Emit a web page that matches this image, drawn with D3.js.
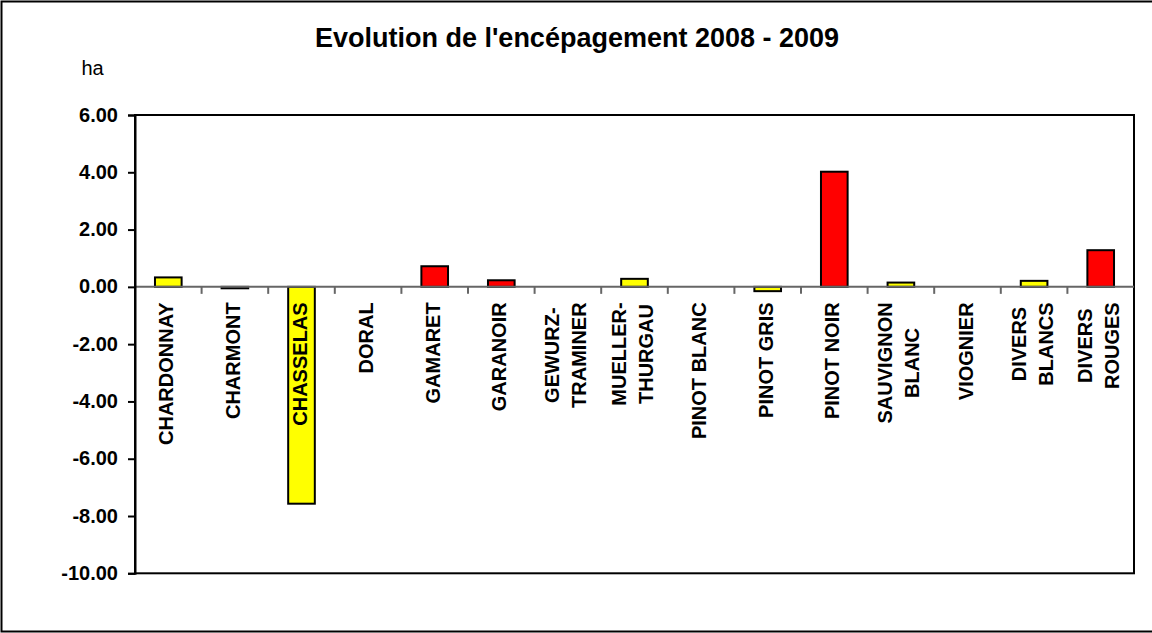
<!DOCTYPE html>
<html>
<head>
<meta charset="utf-8">
<script src="https://cdn.jsdelivr.net/npm/d3@7"></script>
<style>
  html, body { margin: 0; padding: 0; background: #fff; }
  svg { display: block; font-family: "Liberation Sans", Arial, sans-serif; }
</style>
</head>
<body>
<svg id="chart" width="1152" height="633"></svg>
<script>
const categories = ["CHARDONNAY", "CHARMONT", "CHASSELAS", "DORAL", "GAMARET", "GARANOIR",
  "GEWURZ-\nTRAMINER", "MUELLER-\nTHURGAU", "PINOT BLANC", "PINOT GRIS", "PINOT NOIR",
  "SAUVIGNON\nBLANC", "VIOGNIER", "DIVERS\nBLANCS", "DIVERS\nROUGES"];
const values = [0.33, -0.05, -7.57, 0, 0.72, 0.23, 0, 0.28, 0, -0.15, 4.02, 0.15, 0, 0.21, 1.28];
const grapeType = ["blanc", "blanc", "blanc", "rouge", "rouge", "rouge", "blanc", "blanc", "blanc",
  "blanc", "rouge", "blanc", "blanc", "blanc", "rouge"];
const yTicks = [6, 4, 2, 0, -2, -4, -6, -8, -10];
const titleText = "Evolution de l'encépagement 2008 - 2009";
const unitText = "ha";

const svg = d3.select("#chart");
const W = 1152, H = 633;
const m = { left: 135, right: 1134, top: 115, bottom: 573.3 };

// outer border
svg.append("rect").attr("x", 1.5).attr("y", 1.5).attr("width", W + 10).attr("height", 630)
  .attr("fill", "#fff").attr("stroke", "#000").attr("stroke-width", 2);

const x = d3.scaleBand().domain(categories).range([m.left, m.right]).paddingInner(0).paddingOuter(0);
const y = d3.scaleLinear().domain([-10, 6]).range([m.bottom, m.top]);
const colour = d3.scaleOrdinal().domain(["blanc", "rouge"]).range(["#FFFF00", "#FF0000"]);

// title
svg.append("text").attr("x", 577).attr("y", 47).attr("text-anchor", "middle")
  .attr("font-size", 27).attr("font-weight", "bold").text(titleText);
svg.append("text").attr("x", 81.5).attr("y", 75).attr("font-size", 20).text(unitText);

// plot frame
svg.append("rect").attr("x", m.left).attr("y", m.top)
  .attr("width", m.right - m.left).attr("height", m.bottom - m.top)
  .attr("fill", "#fff").attr("stroke", "#000").attr("stroke-width", 2);

// bars
const barW = x.bandwidth() / 2.5;
const data = categories.map((c, i) => ({ c, v: values[i], t: grapeType[i] }));
svg.append("g").selectAll("rect").data(data.filter(d => d.v !== 0)).join("rect")
  .attr("x", d => x(d.c) + (x.bandwidth() - barW) / 2)
  .attr("y", d => y(Math.max(0, d.v)))
  .attr("width", barW)
  .attr("height", d => Math.abs(y(d.v) - y(0)))
  .attr("fill", d => colour(d.t))
  .attr("stroke", "#000").attr("stroke-width", 2);

// x axis line at zero
const gx = svg.append("g");
gx.append("line").attr("x1", m.left).attr("x2", m.right).attr("y1", y(0)).attr("y2", y(0))
  .attr("stroke", "#666").attr("stroke-width", 2);
gx.selectAll("line.tick").data(categories.slice(1)).join("line").attr("class", "tick")
  .attr("x1", d => x(d)).attr("x2", d => x(d))
  .attr("y1", y(0)).attr("y2", y(0) + 7)
  .attr("stroke", "#666").attr("stroke-width", 2);

// y axis
const yAxis = d3.axisLeft(y).tickValues(yTicks).tickFormat(d => d.toFixed(2)).tickSize(7).tickPadding(10);
const gy = svg.append("g").attr("transform", `translate(${m.left},0)`).call(yAxis);
gy.select(".domain").attr("stroke", "#000").attr("stroke-width", 2);
gy.selectAll(".tick line").attr("stroke", "#000").attr("stroke-width", 2);
gy.selectAll(".tick text").attr("font-size", 20).attr("font-weight", "bold")
  .attr("font-family", "Liberation Sans, Arial, sans-serif").attr("fill", "#000")
  .attr("dy", null).attr("y", 6);

// category labels (rotated)
const labelTop = y(0) + 15.5;
const lineGap = 27;
const lg = svg.append("g");
data.forEach(d => {
  const lines = d.c.split("\n");
  const g = lg.append("g")
    .attr("transform", `translate(${x(d.c) + x.bandwidth() / 2},${labelTop}) rotate(-90)`);
  const texts = lines.map((ln, i) => g.append("text")
    .attr("font-size", 20).attr("font-weight", "bold").attr("fill", "#000")
    .attr("y", (i - (lines.length - 1) / 2) * lineGap + 5)
    .text(ln));
  const maxLen = d3.max(texts, t => t.node().getComputedTextLength());
  texts.forEach(t => t.attr("text-anchor", "middle").attr("x", -maxLen / 2));
});
</script>
</body>
</html>
